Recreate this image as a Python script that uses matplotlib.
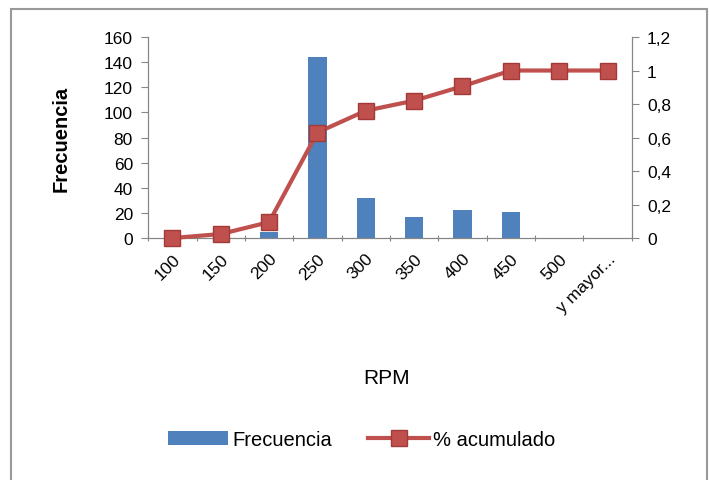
import numpy as np
import matplotlib
matplotlib.use("Agg")
import matplotlib.pyplot as plt
from matplotlib.patches import Rectangle
from matplotlib.ticker import FuncFormatter

# -----------------------------
# Data
# -----------------------------
categories = ["100", "150", "200", "250", "300", "350", "400", "450", "500", "y mayor..."]
frecuencia = [0, 0, 5, 144, 32, 17, 22, 21, 0, 0]
acumulado = [0.0, 0.024, 0.095, 0.63, 0.76, 0.82, 0.906, 1.0, 1.0, 1.0]
left_ticks = list(range(0, 161, 20))
right_ticks = [0, 0.2, 0.4, 0.6, 0.8, 1.0, 1.2]

BAR_C = "#4F81BD"
LINE_C = "#C0504D"
SPINE_C = "#868686"

plt.rcParams["font.family"] = ["Liberation Sans", "DejaVu Sans"]

fig = plt.figure(figsize=(7.09, 4.81), dpi=100)
ax = fig.add_axes([0.209, 0.503, 0.682, 0.418])
ax2 = ax.twinx()

x = np.arange(len(categories))
bars = ax.bar(x, frecuencia, width=0.38, color=BAR_C, zorder=2, label="Frecuencia")
line, = ax2.plot(x, acumulado, color=LINE_C, lw=3, marker="s", markersize=12,
                 markerfacecolor=LINE_C, markeredgecolor="#A23B38", label="% acumulado",
                 clip_on=False, zorder=3)

ax.set_xlim(-0.5, len(categories) - 0.5)
ax.set_ylim(0, 160)
ax.set_yticks(left_ticks)
ax2.set_ylim(0, 1.2)
ax2.set_yticks(right_ticks)
ax2.yaxis.set_major_formatter(FuncFormatter(lambda v, p: f"{v:g}".replace(".", ",")))

# bar axis behind line axis
ax.set_zorder(1)
ax2.set_zorder(2)
ax.patch.set_visible(False)

# x ticks: marks at category boundaries, labels at centers
ax.set_xticks(np.arange(-0.5, len(categories)), minor=False)
ax.set_xticklabels([])
ax.set_xticks(x, minor=True)
ax.set_xticklabels(categories, minor=True, rotation=45, ha="right",
                   rotation_mode="anchor", fontsize=12.5)
ax.tick_params(axis="x", which="minor", length=0, pad=9)
ax.tick_params(axis="x", which="major", length=5, direction="inout", color=SPINE_C)
ax.tick_params(axis="y", length=5, direction="out", color=SPINE_C, labelsize=12.5, pad=6)
ax2.tick_params(axis="y", length=5, direction="out", color=SPINE_C, labelsize=12.5, pad=6)

for a in (ax, ax2):
    a.spines["top"].set_visible(False)
    for s in ("left", "right", "bottom"):
        a.spines[s].set_color(SPINE_C)

ax.set_ylabel("Frecuencia", fontsize=14.5, fontweight="bold", labelpad=24)
fig.text(0.545, 0.213, "RPM", fontsize=15, ha="center", va="center")

fig.legend(handles=[bars, line], labels=["Frecuencia", "% acumulado"],
           loc="center", bbox_to_anchor=(0.51, 0.085), ncol=2, frameon=False,
           fontsize=14.5, handlelength=3.0, columnspacing=1.8, handletextpad=0.2)

# outer chart frame
fig.patches.append(Rectangle((0.0155, -0.05), 0.982, 1.029, transform=fig.transFigure,
                             fill=False, edgecolor="#999999", lw=1.5))

fig.savefig("out.png", dpi=100)
